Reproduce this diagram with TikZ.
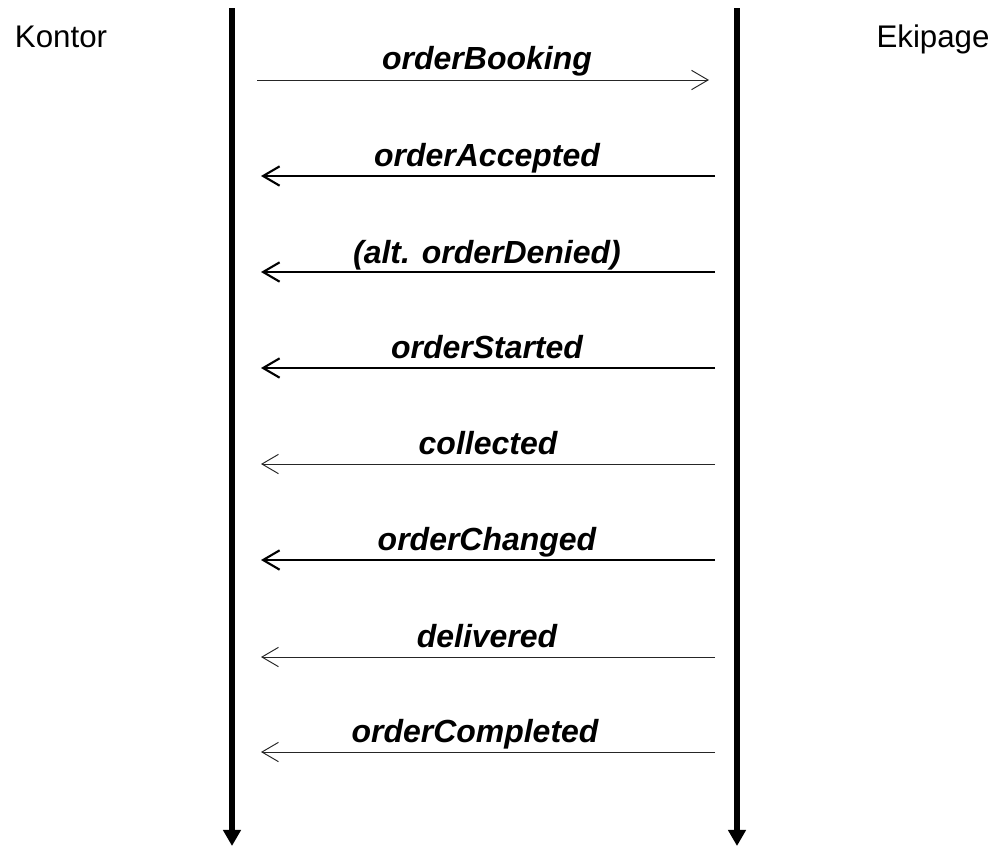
\documentclass[tikz,border=0pt]{standalone}
\usepackage{fontspec}
\setmainfont{Liberation Sans}
\usetikzlibrary{arrows.meta}
\tikzset{
  px/.style={x=0.02cm,y=-0.02cm},
  lifeline/.style={line width=3.4pt,-{Triangle[width=9.8pt,length=9.2pt]}},
  thinmsg/.style={line width=0.55pt,black!85,-{Straight Barb[length=9.4pt,width=11pt]}},
  thickmsg/.style={line width=1.2pt,-{Straight Barb[length=9.4pt,width=11pt]}},
  actor/.style={anchor=base,inner sep=0pt,font=\fontsize{17.8}{21}\selectfont},
  msglabel/.style={anchor=base,inner sep=0pt,font=\fontsize{18.2}{21}\selectfont\bfseries\itshape},
}
\begin{document}
\begin{tikzpicture}[px]
\useasboundingbox (0,0) rectangle (1000,846);
% actors
\node[actor] (kontor) at (61,47) {Kontor};
\node[actor] (ekipage) at (933,47) {Ekipage};
% lifelines
\coordinate (kt) at (232,8);
\coordinate (kb) at (232,846);
\coordinate (et) at (737,8);
\coordinate (eb) at (737,846);
\draw[lifeline] (kt) -- (kb);
\draw[lifeline] (et) -- (eb);
% messages
\coordinate (m1s) at (257,80);  \coordinate (m1e) at (709,80);
\coordinate (m2s) at (715,176); \coordinate (m2e) at (261,176);
\coordinate (m3s) at (715,272); \coordinate (m3e) at (261,272);
\coordinate (m4s) at (715,368); \coordinate (m4e) at (261,368);
\coordinate (m5s) at (715,464); \coordinate (m5e) at (261,464);
\coordinate (m6s) at (715,560); \coordinate (m6e) at (261,560);
\coordinate (m7s) at (715,657); \coordinate (m7e) at (261,657);
\coordinate (m8s) at (715,752); \coordinate (m8e) at (261,752);
\draw[thinmsg] (m1s) -- (m1e);
\draw[thickmsg] (m2s) -- (m2e);
\draw[thickmsg] (m3s) -- (m3e);
\draw[thickmsg] (m4s) -- (m4e);
\draw[thinmsg] (m5s) -- (m5e);
\draw[thickmsg] (m6s) -- (m6e);
\draw[thinmsg] (m7s) -- (m7e);
\draw[thinmsg] (m8s) -- (m8e);
% labels
\node[msglabel] (l1) at (487,69) {orderBooking};
\node[msglabel] (l2) at (487,166) {orderAccepted};
\node[msglabel] (l3) at (487,263) {(alt. orderDenied)};
\node[msglabel] (l4) at (487,358) {orderStarted};
\node[msglabel] (l5) at (488,454) {collected};
\node[msglabel] (l6) at (487,550) {orderChanged};
\node[msglabel] (l7) at (487,647) {delivered};
\node[msglabel] (l8) at (475,742) {orderCompleted};
\end{tikzpicture}
\end{document}
